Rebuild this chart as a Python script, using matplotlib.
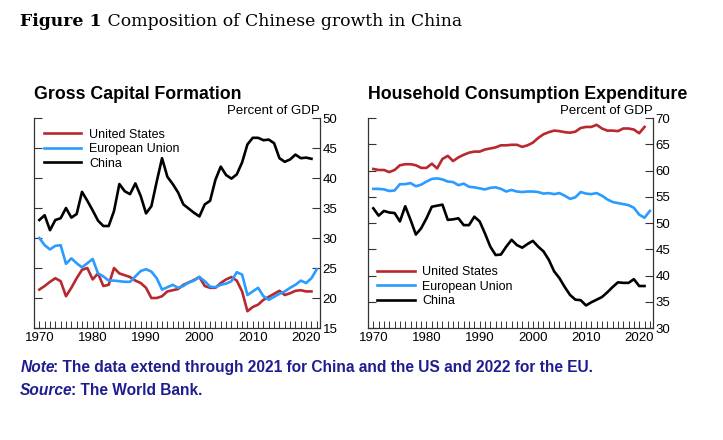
import matplotlib
matplotlib.use("Agg")
import matplotlib.pyplot as plt
from matplotlib.ticker import MultipleLocator

plt.rcParams["font.family"] = ["Liberation Sans", "DejaVu Sans"]

# Gross capital formation, percent of GDP
gcf_years = list(range(1970, 2022))
gcf_us = [21.4, 22.0, 22.7, 23.3, 22.8, 20.3, 21.7, 23.3, 24.7, 25.0,
          23.1, 24.1, 22.0, 22.2, 25.0, 24.1, 23.8, 23.5, 22.9, 22.5,
          21.7, 20.0, 20.0, 20.3, 21.1, 21.3, 21.5, 22.2, 22.6, 23.0,
          23.5, 22.0, 21.7, 21.7, 22.5, 23.1, 23.5, 22.9, 21.1, 17.8,
          18.5, 18.9, 19.7, 20.2, 20.7, 21.2, 20.5, 20.8, 21.2, 21.3,
          21.1, 21.1]
gcf_china = [33.0, 33.8, 31.3, 33.0, 33.3, 35.0, 33.4, 34.0, 37.7, 36.2,
             34.6, 32.9, 32.0, 32.0, 34.5, 39.0, 37.8, 37.3, 39.1, 37.0,
             34.1, 35.3, 39.4, 43.3, 40.2, 39.0, 37.6, 35.6, 34.9, 34.2,
             33.6, 35.6, 36.2, 39.7, 41.9, 40.5, 39.9, 40.6, 42.6, 45.6,
             46.7, 46.7, 46.3, 46.4, 45.8, 43.3, 42.7, 43.1, 43.9, 43.3,
             43.4, 43.2]
gcf_eu_years = list(range(1970, 2023))
gcf_eu = [30.0, 28.8, 28.1, 28.7, 28.8, 25.7, 26.6, 25.8, 25.1, 25.8,
          26.5, 24.1, 23.6, 22.9, 22.9, 22.8, 22.7, 22.7, 23.6, 24.5,
          24.8, 24.4, 23.3, 21.4, 21.8, 22.2, 21.7, 22.0, 22.6, 22.9,
          23.5, 22.8, 21.9, 21.8, 22.2, 22.4, 22.8, 24.3, 23.9, 20.5,
          21.1, 21.7, 20.3, 19.7, 20.2, 20.7, 21.1, 21.7, 22.2, 22.9,
          22.5, 23.3, 24.8]

# Household consumption expenditure, percent of GDP
hce_years = list(range(1970, 2022))
hce_us = [60.3, 60.1, 60.1, 59.7, 60.1, 61.0, 61.2, 61.2, 61.0, 60.5,
          60.5, 61.3, 60.4, 62.2, 62.8, 61.8, 62.5, 63.0, 63.4, 63.6,
          63.6, 64.0, 64.2, 64.4, 64.8, 64.8, 64.9, 64.9, 64.5, 64.8,
          65.3, 66.2, 66.9, 67.3, 67.6, 67.5, 67.3, 67.2, 67.4, 68.1,
          68.3, 68.3, 68.7, 68.0, 67.6, 67.6, 67.5, 68.0, 68.0, 67.8,
          67.1, 68.3]
hce_china = [52.8, 51.4, 52.3, 52.0, 51.9, 50.3, 53.2, 50.6, 47.8, 49.0,
             50.9, 53.1, 53.3, 53.5, 50.6, 50.7, 50.9, 49.6, 49.6, 51.2,
             50.3, 48.0, 45.5, 43.9, 44.0, 45.5, 46.8, 45.8, 45.3, 46.0,
             46.6, 45.5, 44.6, 43.0, 40.8, 39.5, 37.8, 36.3, 35.4, 35.3,
             34.3, 34.9, 35.4, 35.9, 36.8, 37.8, 38.7, 38.6, 38.6, 39.3,
             38.0, 38.0]
hce_eu_years = list(range(1970, 2023))
hce_eu = [56.5, 56.5, 56.4, 56.1, 56.2, 57.4, 57.4, 57.6, 57.0, 57.3,
          57.9, 58.4, 58.5, 58.3, 57.9, 57.8, 57.2, 57.5, 56.9, 56.8,
          56.6, 56.4, 56.7, 56.8, 56.5, 56.0, 56.3, 56.0, 55.9, 56.0,
          56.0, 55.9, 55.6, 55.7, 55.5, 55.7, 55.2, 54.6, 54.9, 55.9,
          55.6, 55.5, 55.7, 55.2, 54.5, 54.0, 53.8, 53.6, 53.4, 52.9,
          51.6, 51.0, 52.3]

RED = "#b8282e"
BLUE = "#2a9bff"
BLACK = "#000000"
NOTE_BLUE = "#1f1d8f"
SERIF = ["DejaVu Serif", "Liberation Serif"]

fig = plt.figure(figsize=(7.23, 4.40), dpi=100)
ax1 = fig.add_axes([0.047, 0.2545, 0.3956, 0.4773])
ax2 = fig.add_axes([0.509, 0.2545, 0.3942, 0.4773])


def style_axis(ax, ylo, yhi, title):
    ax.set_xlim(1969.0, 2022.6)
    ax.set_ylim(ylo, yhi)
    ax.xaxis.set_major_locator(MultipleLocator(10))
    ax.xaxis.set_minor_locator(MultipleLocator(1))
    ax.yaxis.set_major_locator(MultipleLocator(5))
    ax.yaxis.tick_right()
    ax.tick_params(axis="y", which="both", left=True, right=True,
                   labelleft=False, labelright=True, direction="in",
                   length=6, width=0.8, color="#333333", labelsize=9.5, pad=2)
    ax.tick_params(axis="x", which="both", top=False, direction="in",
                   length=5, width=0.7, color="#333333", labelsize=9.5, pad=3)
    for sp in ["left", "right", "bottom"]:
        ax.spines[sp].set_color("#333333")
        ax.spines[sp].set_linewidth(0.9)
    ax.spines["top"].set_visible(False)
    ax.text(0.0, 1.09, title, transform=ax.transAxes, fontsize=12.8,
            fontweight="bold", va="baseline", ha="left")
    ax.text(1.0, 1.02, "Percent of GDP", transform=ax.transAxes,
            fontsize=9.5, va="baseline", ha="right")


style_axis(ax1, 15, 50, "Gross Capital Formation")
style_axis(ax2, 30, 70, "Household Consumption Expenditure")

lw = 1.9
ax1.plot(gcf_years, gcf_us, color=RED, lw=lw, label="United States")
ax1.plot(gcf_eu_years, gcf_eu, color=BLUE, lw=lw, label="European Union")
ax1.plot(gcf_years, gcf_china, color=BLACK, lw=lw, label="China")

ax2.plot(hce_years, hce_us, color=RED, lw=lw, label="United States")
ax2.plot(hce_eu_years, hce_eu, color=BLUE, lw=lw, label="European Union")
ax2.plot(hce_years, hce_china, color=BLACK, lw=lw, label="China")

leg_kw = dict(frameon=False, fontsize=9, handlelength=3.0, handletextpad=0.6,
              labelspacing=0.2, borderpad=0, borderaxespad=0)
ax1.legend(loc="upper left", bbox_to_anchor=(0.035, 0.95), **leg_kw)
ax2.legend(loc="upper left", bbox_to_anchor=(0.032, 0.295), **leg_kw)

# figure title: bold lead-in followed by regular text
t = fig.text(0.028, 0.94, "Figure 1", fontsize=12.4, fontweight="bold",
             family=SERIF, va="baseline")
fig.canvas.draw()
bb = t.get_window_extent().transformed(fig.transFigure.inverted())
fig.text(bb.x1, 0.94, " Composition of Chinese growth in China", fontsize=12.4,
         family=SERIF, va="baseline")

# notes
for y, lead, rest in [(0.1545, "Note", ": The data extend through 2021 for China and the US and 2022 for the EU."),
                      (0.102, "Source", ": The World Bank.")]:
    a = fig.text(0.028, y, lead, fontsize=11.2, fontweight="bold",
                 style="italic", color=NOTE_BLUE, va="baseline")
    fig.canvas.draw()
    b = a.get_window_extent().transformed(fig.transFigure.inverted())
    fig.text(b.x1 - 0.002, y, rest, fontsize=11.2, fontweight="bold",
             color=NOTE_BLUE, va="baseline")

fig.savefig("out.png", dpi=100)
